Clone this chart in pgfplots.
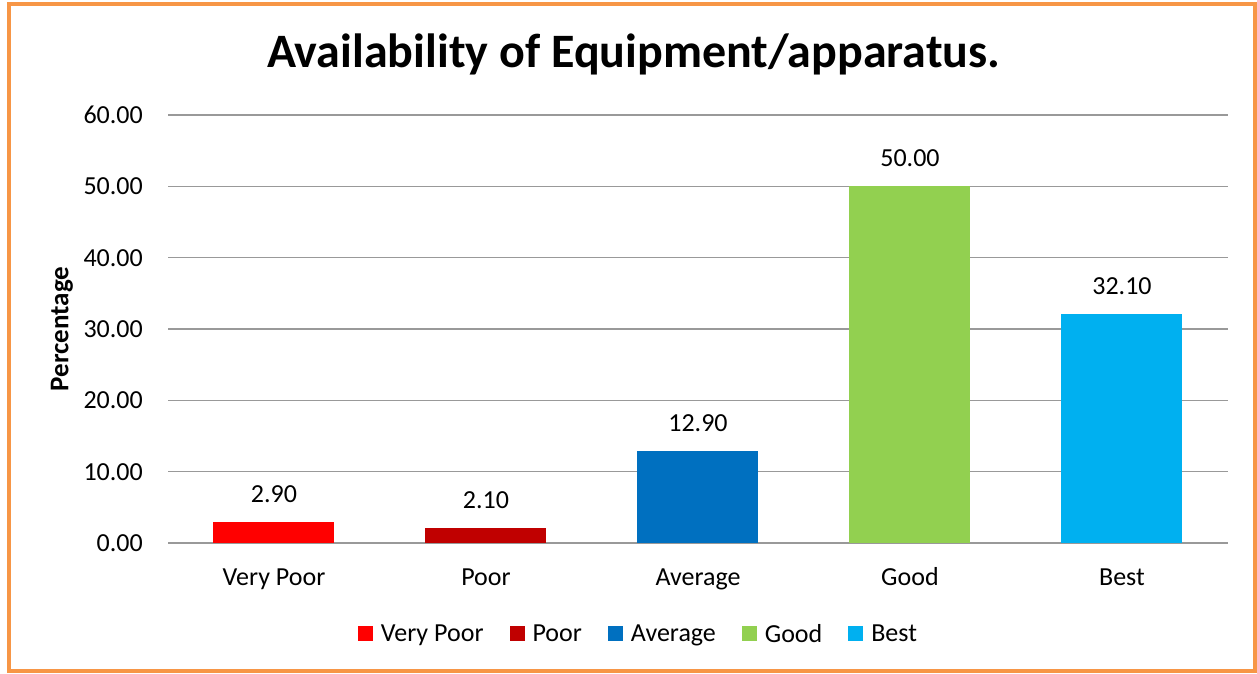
\documentclass[border=0pt]{standalone}
\usepackage{fontspec}
\setmainfont{Carlito}
\usepackage{pgfplots}
\pgfplotsset{compat=1.18}
\definecolor{cVP}{HTML}{FF0000}
\definecolor{cP}{HTML}{C00000}
\definecolor{cA}{HTML}{0070C0}
\definecolor{cG}{HTML}{92D050}
\definecolor{cB}{HTML}{00B0F0}
\definecolor{gridc}{HTML}{999999}
\definecolor{borderc}{HTML}{F79646}
\pgfplotsset{mylegend/.style={legend image code/.code={\fill[##1] (0pt,-7.5pt) rectangle (15pt,7.5pt);}}}
\begin{document}
\begin{tikzpicture}[x=1pt,y=1pt]
\useasboundingbox (0,0) rectangle (1257,673);
\fill[white] (0,0) rectangle (1257,673);
\draw[borderc, line width=4pt] (8.5,2) rectangle (1254.5,668.5);
\begin{axis}[
  at={(168pt,130pt)}, anchor=south west,
  scale only axis, width=1060pt, height=428pt,
  xmin=-0.5, xmax=4.5, ymin=0, ymax=60,
  ytick={0,10,...,60},
  xtick={0,1,2,3,4},
  xticklabels={Very Poor, Poor, Average, Good, Best},
  /pgf/number format/assume math mode=true,
  yticklabel={\pgfmathprintnumber[fixed,fixed zerofill,precision=2]{\tick}},
  separate axis lines,
  axis x line=bottom, axis y line=left,
  y axis line style={draw=none},
  x axis line style={gridc, line width=1.5pt, -},
  major tick length=0pt,
  ymajorgrids, grid style={gridc, line width=1.2pt},
  ticklabel style={font=\fontsize{26}{30}\selectfont, text=black},
  xticklabel style={inner sep=0pt, anchor=base, yshift=-42pt},
  yticklabel style={inner sep=0pt, anchor=east, xshift=-25pt},
  ybar, bar width=121pt, bar shift=0pt,
  nodes near coords={\pgfmathprintnumber[fixed,fixed zerofill,precision=2]{\pgfplotspointmeta}},
  every node near coord/.append style={font=\fontsize{26}{30}\selectfont, text=black, inner sep=0pt, anchor=south, yshift=19pt},
  title={Availability of Equipment/apparatus.},
  title style={font=\bfseries\fontsize{48}{56}\selectfont, inner sep=0pt, at={(axis description cs:0.4392,1.0958)}, anchor=base},
  ylabel={Percentage},
  every axis y label/.style={font=\bfseries\fontsize{27}{31}\selectfont, at={(axis description cs:-0.1,0.5)}, rotate=90, anchor=center},
  legend columns=-1,
  legend style={at={(axis description cs:0.4429,-0.2126)}, anchor=center, draw=none, fill=none,
    font=\fontsize{26}{30}\selectfont, nodes={inner sep=0pt},
    /tikz/every odd column/.append style={column sep=8pt},
    /tikz/every even column/.append style={column sep=26pt}},
]
\addplot[fill=cVP, draw=none, mylegend] coordinates {(0,2.9)};
\addplot[fill=cP, draw=none, mylegend] coordinates {(1,2.1)};
\addplot[fill=cA, draw=none, mylegend] coordinates {(2,12.9)};
\addplot[fill=cG, draw=none, mylegend] coordinates {(3,50.0)};
\addplot[fill=cB, draw=none, mylegend] coordinates {(4,32.1)};
\legend{Very Poor, Poor, Average, Good, Best}
\end{axis}
\end{tikzpicture}
\end{document}
